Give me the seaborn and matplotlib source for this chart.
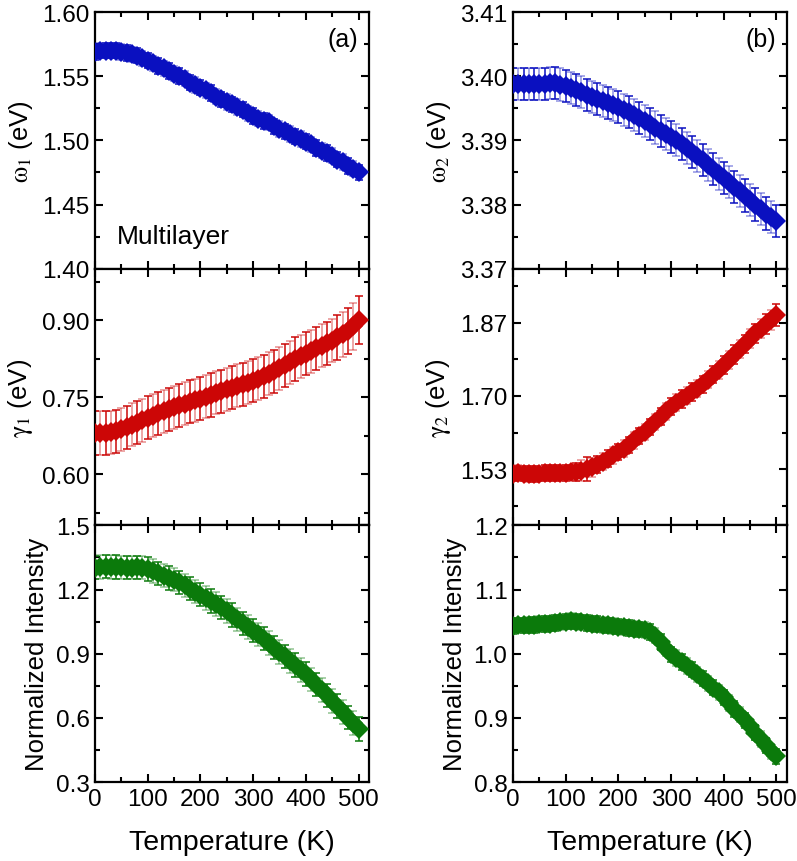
import numpy as np
import pandas as pd
import matplotlib
matplotlib.use("Agg")
import matplotlib.pyplot as plt
import seaborn as sns
from matplotlib.ticker import MultipleLocator, FixedLocator

# ---------------- data ----------------
temperature = list(range(0, 501, 10))

omega1 = [1.569, 1.570, 1.570, 1.570, 1.570, 1.569, 1.568, 1.567, 1.566, 1.564,
          1.562, 1.560, 1.558, 1.556, 1.554, 1.552, 1.550, 1.548, 1.545, 1.543,
          1.541, 1.539, 1.537, 1.534, 1.532, 1.530, 1.528, 1.526, 1.524, 1.521,
          1.519, 1.517, 1.515, 1.514, 1.511, 1.509, 1.507, 1.505, 1.503, 1.501,
          1.499, 1.497, 1.494, 1.492, 1.490, 1.488, 1.485, 1.483, 1.480, 1.478, 1.475]
omega1_err = [0.006, 0.006, 0.006, 0.006, 0.006, 0.006, 0.006, 0.006, 0.006, 0.006,
              0.006, 0.006, 0.006, 0.006, 0.006, 0.006, 0.006, 0.006, 0.006, 0.006,
              0.006, 0.006, 0.006, 0.006, 0.006, 0.006, 0.006, 0.006, 0.006, 0.006,
              0.006, 0.006, 0.006, 0.006, 0.006, 0.006, 0.006, 0.006, 0.006, 0.006,
              0.006, 0.006, 0.006, 0.006, 0.006, 0.006, 0.006, 0.006, 0.006, 0.006, 0.006]

omega2 = [3.3988, 3.3988, 3.3988, 3.3988, 3.3988, 3.3988, 3.3988, 3.3990, 3.3990, 3.3987,
          3.3985, 3.3982, 3.3978, 3.3975, 3.3971, 3.3967, 3.3964, 3.3961, 3.3958, 3.3955,
          3.3952, 3.3948, 3.3944, 3.3940, 3.3935, 3.3930, 3.3925, 3.3920, 3.3915, 3.3910,
          3.3905, 3.3900, 3.3894, 3.3888, 3.3882, 3.3876, 3.3869, 3.3862, 3.3855, 3.3848,
          3.3842, 3.3835, 3.3828, 3.3821, 3.3814, 3.3807, 3.3800, 3.3793, 3.3786, 3.3780, 3.3774]
omega2_err = [0.0025, 0.0025, 0.0025, 0.0025, 0.0025, 0.0025, 0.0025, 0.0025, 0.0025, 0.0025,
              0.0025, 0.0025, 0.0025, 0.0025, 0.0025, 0.0025, 0.0025, 0.0025, 0.0025, 0.0025,
              0.0025, 0.0025, 0.0025, 0.0025, 0.0025, 0.0025, 0.0025, 0.0025, 0.0025, 0.0025,
              0.0025, 0.0025, 0.0025, 0.0025, 0.0025, 0.0025, 0.0025, 0.0025, 0.0025, 0.0025,
              0.0025, 0.0025, 0.0025, 0.0025, 0.0025, 0.0025, 0.0025, 0.0025, 0.0025, 0.0025, 0.0025]

gamma1 = [0.680, 0.680, 0.680, 0.681, 0.683, 0.687, 0.691, 0.696, 0.700, 0.705,
          0.710, 0.714, 0.718, 0.722, 0.726, 0.730, 0.734, 0.737, 0.741, 0.744,
          0.747, 0.751, 0.754, 0.758, 0.761, 0.765, 0.768, 0.772, 0.775, 0.778,
          0.782, 0.786, 0.790, 0.795, 0.800, 0.806, 0.812, 0.818, 0.824, 0.829,
          0.834, 0.839, 0.845, 0.850, 0.855, 0.860, 0.866, 0.872, 0.879, 0.888, 0.900]
gamma1_err = [0.042, 0.042, 0.042, 0.042, 0.042, 0.042, 0.042, 0.042, 0.042, 0.042,
              0.042, 0.042, 0.042, 0.042, 0.042, 0.042, 0.042, 0.042, 0.042, 0.042,
              0.042, 0.042, 0.042, 0.042, 0.042, 0.042, 0.042, 0.042, 0.042, 0.042,
              0.042, 0.042, 0.042, 0.042, 0.042, 0.042, 0.042, 0.042, 0.042, 0.042,
              0.042, 0.042, 0.042, 0.042, 0.042, 0.042, 0.043, 0.044, 0.045, 0.046, 0.047]

gamma2 = [1.520, 1.521, 1.520, 1.519, 1.519, 1.520, 1.521, 1.521, 1.521, 1.522,
          1.522, 1.523, 1.524, 1.527, 1.530, 1.535, 1.541, 1.548, 1.555, 1.562,
          1.570, 1.578, 1.587, 1.597, 1.607, 1.617, 1.628, 1.640, 1.652, 1.664,
          1.675, 1.684, 1.693, 1.701, 1.709, 1.717, 1.727, 1.738, 1.749, 1.760,
          1.771, 1.783, 1.796, 1.809, 1.821, 1.833, 1.845, 1.856, 1.866, 1.876, 1.887]
gamma2_err = [0.018, 0.018, 0.018, 0.018, 0.018, 0.018, 0.018, 0.018, 0.018, 0.018,
              0.018, 0.018, 0.020, 0.024, 0.028, 0.022, 0.020, 0.019, 0.019, 0.019,
              0.019, 0.019, 0.019, 0.019, 0.019, 0.019, 0.019, 0.019, 0.019, 0.019,
              0.020, 0.020, 0.020, 0.020, 0.020, 0.020, 0.020, 0.020, 0.020, 0.020,
              0.021, 0.021, 0.021, 0.021, 0.021, 0.022, 0.022, 0.022, 0.023, 0.024, 0.025]

intensity1 = [1.302, 1.305, 1.307, 1.306, 1.305, 1.304, 1.303, 1.303, 1.304, 1.302,
              1.296, 1.286, 1.275, 1.265, 1.255, 1.246, 1.233, 1.219, 1.204, 1.190,
              1.176, 1.161, 1.147, 1.132, 1.117, 1.100, 1.081, 1.060, 1.042, 1.024,
              1.008, 0.990, 0.970, 0.950, 0.928, 0.907, 0.887, 0.867, 0.846, 0.825,
              0.804, 0.780, 0.755, 0.730, 0.705, 0.680, 0.655, 0.628, 0.601, 0.575, 0.548]
intensity1_err = [0.055, 0.055, 0.055, 0.055, 0.055, 0.055, 0.055, 0.055, 0.055, 0.055,
                  0.055, 0.055, 0.055, 0.055, 0.055, 0.055, 0.055, 0.055, 0.055, 0.055,
                  0.055, 0.055, 0.055, 0.055, 0.055, 0.055, 0.055, 0.055, 0.055, 0.055,
                  0.055, 0.055, 0.055, 0.055, 0.055, 0.055, 0.055, 0.055, 0.055, 0.055,
                  0.055, 0.055, 0.055, 0.055, 0.055, 0.055, 0.055, 0.055, 0.055, 0.055, 0.055]

intensity2 = [1.043, 1.044, 1.044, 1.045, 1.045, 1.046, 1.046, 1.047, 1.048, 1.049,
              1.050, 1.051, 1.050, 1.049, 1.048, 1.047, 1.046, 1.045, 1.044, 1.043,
              1.042, 1.041, 1.040, 1.039, 1.038, 1.037, 1.034, 1.028, 1.018, 1.008,
              0.999, 0.993, 0.987, 0.981, 0.975, 0.968, 0.961, 0.954, 0.947, 0.940,
              0.932, 0.923, 0.914, 0.905, 0.896, 0.887, 0.877, 0.867, 0.857, 0.848, 0.840]
intensity2_err = [0.012, 0.012, 0.012, 0.012, 0.012, 0.012, 0.012, 0.012, 0.012, 0.012,
                  0.012, 0.012, 0.012, 0.012, 0.012, 0.012, 0.012, 0.012, 0.012, 0.012,
                  0.012, 0.012, 0.012, 0.012, 0.012, 0.012, 0.012, 0.012, 0.012, 0.012,
                  0.012, 0.012, 0.012, 0.012, 0.012, 0.012, 0.012, 0.012, 0.012, 0.012,
                  0.012, 0.012, 0.012, 0.012, 0.012, 0.012, 0.012, 0.012, 0.012, 0.012, 0.012]

x_ticks = [0, 100, 200, 300, 400, 500]
x_label = "Temperature (K)"

# ---------------- style ----------------
sns.set_style("ticks")
plt.rcParams["font.family"] = ["Liberation Sans", "DejaVu Sans"]
plt.rcParams["mathtext.fontset"] = "stix"
for k in ("text.color", "axes.labelcolor", "xtick.color", "ytick.color",
          "axes.edgecolor"):
    plt.rcParams[k] = "black"

BLUE = "#0A10C0"
RED = "#CC0606"
GREEN = "#0B7A0B"

panels = [
    (0, 0, omega1, omega1_err, BLUE, r"$\mathrm{\omega}_1$ (eV)", (1.40, 1.60),
     [1.40, 1.45, 1.50, 1.55, 1.60], 0.025, "{:.2f}"),
    (1, 0, gamma1, gamma1_err, RED, r"$\mathrm{\gamma}_1$ (eV)", (0.50, 1.00),
     [0.60, 0.75, 0.90], [0.525, 0.675, 0.825, 0.975], "{:.2f}"),
    (2, 0, intensity1, intensity1_err, GREEN, "Normalized Intensity", (0.3, 1.5),
     [0.3, 0.6, 0.9, 1.2, 1.5], 0.15, "{:.1f}"),
    (0, 1, omega2, omega2_err, BLUE, r"$\mathrm{\omega}_2$ (eV)", (3.37, 3.41),
     [3.37, 3.38, 3.39, 3.40, 3.41], 0.005, "{:.2f}"),
    (1, 1, gamma2, gamma2_err, RED, r"$\mathrm{\gamma}_2$ (eV)", (1.40, 1.995),
     [1.53, 1.70, 1.87], [1.445, 1.615, 1.785, 1.955], "{:.2f}"),
    (2, 1, intensity2, intensity2_err, GREEN, "Normalized Intensity", (0.8, 1.2),
     [0.8, 0.9, 1.0, 1.1, 1.2], 0.05, "{:.1f}"),
]

fig, axes = plt.subplots(3, 2, figsize=(7.97, 8.62), dpi=100, sharex=True)
fig.subplots_adjust(left=0.1192, right=0.9875, top=0.9849, bottom=0.0916,
                    wspace=0.525, hspace=0.0)

T = np.array(temperature)
for (r, c, y, err, color, ylabel, ylim, majors, minors, fmt) in panels:
    ax = axes[r, c]
    y = np.array(y)
    e = np.array(err)
    for sl, alpha in ((slice(0, None, 2), 1.0), (slice(1, None, 2), 0.45)):
        ax.errorbar(T[sl], y[sl], yerr=e[sl], fmt="none", ecolor=color,
                    elinewidth=1.1, capsize=3.2, capthick=1.1, alpha=alpha,
                    zorder=2)
    df = pd.DataFrame({"T": T, "v": y})
    sns.lineplot(data=df, x="T", y="v", ax=ax, color=color, linewidth=5,
                 marker="D", markersize=10, markeredgewidth=0, zorder=3)
    ax.set_xlim(0, 520)
    ax.set_ylim(*ylim)
    ax.yaxis.set_major_locator(FixedLocator(majors))
    ax.set_yticklabels([fmt.format(v) for v in majors])
    if isinstance(minors, list):
        ax.yaxis.set_minor_locator(FixedLocator(minors))
    else:
        ax.yaxis.set_minor_locator(MultipleLocator(minors))
    ax.xaxis.set_major_locator(FixedLocator(x_ticks))
    ax.xaxis.set_minor_locator(MultipleLocator(50))
    ax.tick_params(which="both", direction="in", top=True, right=True,
                   width=1.5, labelsize=17.5, pad=4)
    ax.tick_params(which="major", length=6)
    ax.tick_params(which="minor", length=3.5)
    for sp in ax.spines.values():
        sp.set_linewidth(1.6)
        sp.set_color("black")
    ax.set_ylabel(ylabel, fontsize=18.5, labelpad=5)
    if r == 2:
        ax.set_xlabel(x_label, fontsize=20.5, labelpad=14)
        ax.set_xticklabels([str(v) for v in x_ticks])
    else:
        ax.set_xlabel("")

axes[0, 0].text(0.96, 0.94, "(a)", transform=axes[0, 0].transAxes,
                ha="right", va="top", fontsize=18)
axes[0, 1].text(0.96, 0.94, "(b)", transform=axes[0, 1].transAxes,
                ha="right", va="top", fontsize=18)
axes[0, 0].text(0.08, 0.08, "Multilayer", transform=axes[0, 0].transAxes,
                ha="left", va="bottom", fontsize=19)

fig.savefig("out.png", dpi=100)
